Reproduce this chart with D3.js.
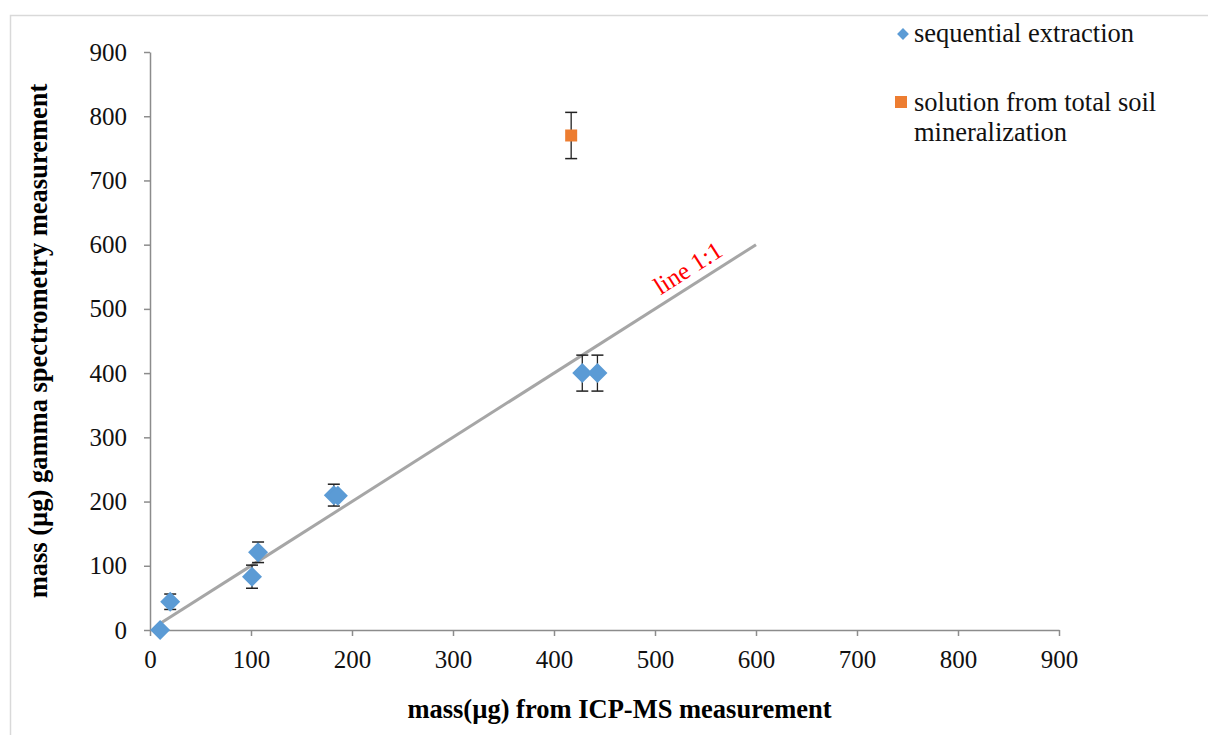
<!DOCTYPE html>
<html>
<head>
<meta charset="utf-8">
<script src="https://cdn.jsdelivr.net/npm/d3@7"></script>
<style>
  body { margin: 0; background: #fff; }
  text { font-family: "Liberation Serif", "Times New Roman", serif; }
</style>
</head>
<body>
<div id="chart"></div>
<script>
// sequential extraction: ICP-MS mass, gamma mass, error
const seqX = [10, 20, 101, 107, 182, 186, 428, 443];
const seqY = [0, 44, 83, 121, 210, 209, 400, 400];
const seqErr = [0, 12, 18, 16, 17, 0, 28, 28];

// solution from total soil mineralization
const solX = [417];
const solY = [770];
const solErr = [36];

const lineX = [10, 600];
const lineY = [10, 600];

const ticks = [0, 100, 200, 300, 400, 500, 600, 700, 800, 900];

const W = 1208, H = 735;
const margin = { top: 52, right: 149, bottom: 105, left: 150 };
const width = W - margin.left - margin.right;
const height = H - margin.top - margin.bottom;

const root = d3.select("#chart").append("svg")
    .attr("width", W)
    .attr("height", H);

// outer frame
root.append("rect")
    .attr("x", 10.5).attr("y", 15.5)
    .attr("width", W + 20).attr("height", H + 20)
    .attr("fill", "none")
    .attr("stroke", "#d9d9d9")
    .attr("stroke-width", 1.5);

const svg = root.append("g")
    .attr("transform", `translate(${margin.left},${margin.top})`);

const x = d3.scaleLinear().domain([0, 900]).range([0, width]);
const y = d3.scaleLinear().domain([0, 900]).range([height, 0]);

const xAxis = svg.append("g")
    .attr("transform", `translate(0,${height})`)
    .call(d3.axisBottom(x).tickValues(ticks).tickSize(6).tickSizeOuter(0).tickPadding(14));
const yAxis = svg.append("g")
    .call(d3.axisLeft(y).tickValues(ticks).tickSize(6).tickSizeOuter(0).tickPadding(17));

[xAxis, yAxis].forEach(a => {
    a.selectAll("path, line").attr("stroke", "#8c8c8c").attr("stroke-width", 1.5);
    a.selectAll("text")
        .attr("fill", "#111")
        .style("font-family", "'Liberation Serif', serif")
        .style("font-size", "25px");
});

svg.append("text")
    .attr("x", width / 2 + 15)
    .attr("y", height + 88)
    .attr("text-anchor", "middle")
    .style("font-size", "26.5px")
    .style("font-weight", "bold")
    .text("mass(µg) from ICP-MS measurement");

svg.append("text")
    .attr("transform", "rotate(-90)")
    .attr("x", -height / 2)
    .attr("y", -103)
    .attr("text-anchor", "middle")
    .style("font-size", "26.5px")
    .style("font-weight", "bold")
    .text("mass (µg) gamma spectrometry measurement");

// 1:1 line
svg.append("line")
    .attr("x1", x(lineX[0])).attr("y1", y(lineY[0]))
    .attr("x2", x(lineX[1])).attr("y2", y(lineY[1]))
    .attr("stroke", "#a6a6a6")
    .attr("stroke-width", 3);

const ang = -Math.atan((y(0) - y(100)) / (x(100) - x(0))) * 180 / Math.PI;
svg.append("text")
    .attr("transform", `translate(${x(537)},${y(537) - 10}) rotate(${ang})`)
    .attr("text-anchor", "middle")
    .attr("fill", "#ff0000")
    .style("font-size", "25px")
    .text("line 1:1");

function errorBars(xs, ys, es) {
    const g = svg.append("g");
    xs.forEach((xv, i) => {
        if (!es[i]) return;
        const cx = x(xv), y1 = y(ys[i] + es[i]), y2 = y(ys[i] - es[i]);
        g.append("line").attr("x1", cx).attr("x2", cx).attr("y1", y1).attr("y2", y2)
            .attr("stroke", "#222").attr("stroke-width", 1.3);
        [y1, y2].forEach(yy => g.append("line")
            .attr("x1", cx - 6).attr("x2", cx + 6).attr("y1", yy).attr("y2", yy)
            .attr("stroke", "#222").attr("stroke-width", 1.5));
    });
}

errorBars(seqX, seqY, seqErr);
errorBars(solX, solY, solErr);

const diamond = d3.symbol().type(d3.symbolSquare).size(200);

svg.selectAll("path.seq")
    .data(seqX)
    .enter()
    .append("path")
    .attr("class", "seq")
    .attr("d", diamond)
    .attr("transform", (d, i) => `translate(${x(d)},${y(seqY[i])}) rotate(45)`)
    .attr("fill", "#5b9bd5");

svg.selectAll("rect.sol")
    .data(solX)
    .enter()
    .append("rect")
    .attr("class", "sol")
    .attr("x", d => x(d) - 6)
    .attr("y", (d, i) => y(solY[i]) - 6)
    .attr("width", 12)
    .attr("height", 12)
    .attr("fill", "#ed7d31");

// legend
const leg = root.append("g");
leg.append("path")
    .attr("d", d3.symbol().type(d3.symbolSquare).size(70))
    .attr("transform", "translate(903,34) rotate(45)")
    .attr("fill", "#5b9bd5");
leg.append("text").attr("x", 914).attr("y", 42)
    .style("font-size", "26.5px").attr("fill", "#111")
    .text("sequential extraction");
leg.append("rect")
    .attr("x", 895).attr("y", 96).attr("width", 12).attr("height", 12)
    .attr("fill", "#ed7d31");
leg.append("text").attr("x", 914).attr("y", 111)
    .style("font-size", "26.5px").attr("fill", "#111")
    .text("solution from total soil");
leg.append("text").attr("x", 914).attr("y", 141)
    .style("font-size", "26.5px").attr("fill", "#111")
    .text("mineralization");
</script>
</body>
</html>
